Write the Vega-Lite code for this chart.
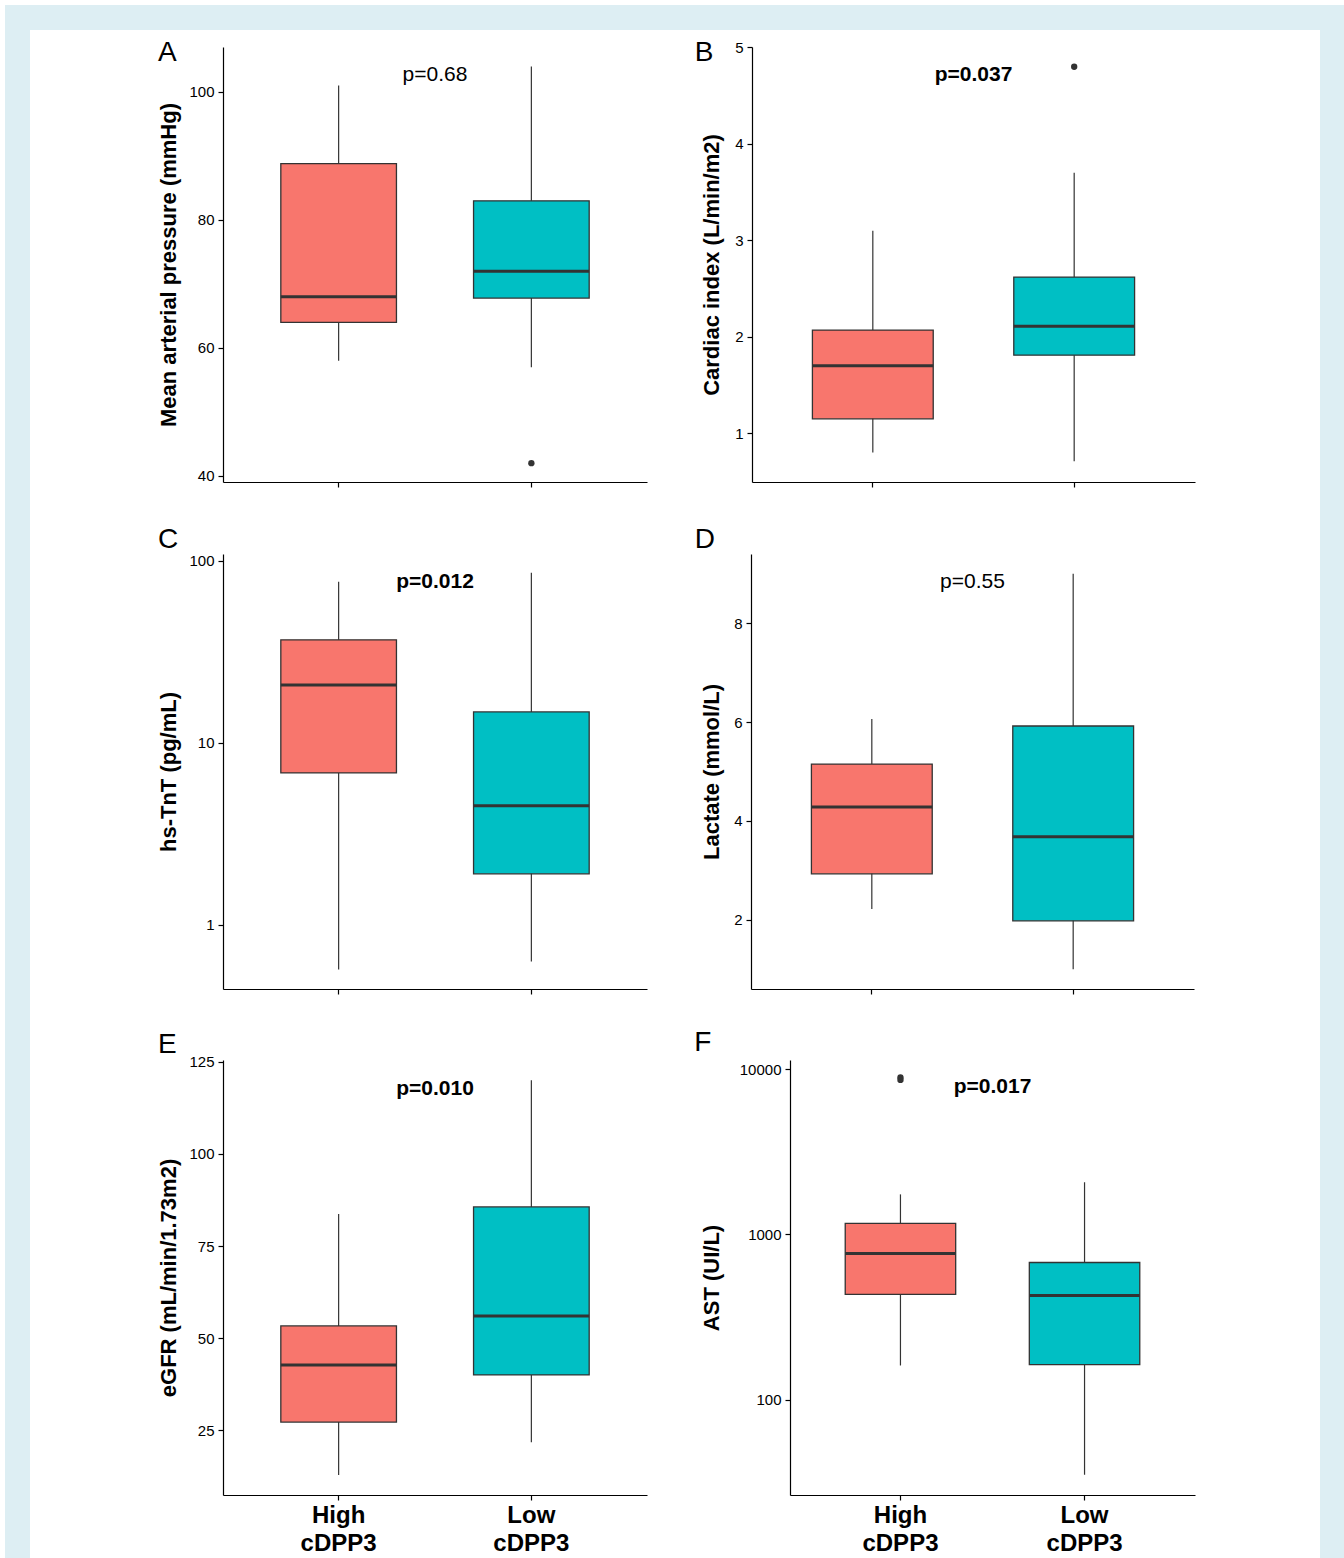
{
"$schema":"https://vega.github.io/schema/vega-lite/v6.json",
"padding":{"left":5,"top":5,"right":0,"bottom":0},
"background":"white",
"datasets":{
 "box":[
  {"panel":"A","group":"High","lo":58,"q1":64,"med":68,"q3":88.8,"hi":101},
  {"panel":"A","group":"Low","lo":57,"q1":67.8,"med":72,"q3":83,"hi":104},
  {"panel":"B","group":"High","lo":0.8,"q1":1.15,"med":1.7,"q3":2.07,"hi":3.1},
  {"panel":"B","group":"Low","lo":0.71,"q1":1.81,"med":2.11,"q3":2.62,"hi":3.7},
  {"panel":"C","group":"High","lo":0.57,"q1":6.84,"med":20.8,"q3":36.8,"hi":76.7},
  {"panel":"C","group":"Low","lo":0.63,"q1":1.91,"med":4.51,"q3":14.8,"hi":85.9},
  {"panel":"D","group":"High","lo":2.22,"q1":2.93,"med":4.28,"q3":5.15,"hi":6.06},
  {"panel":"D","group":"Low","lo":1.0,"q1":1.98,"med":3.68,"q3":5.92,"hi":9.0},
  {"panel":"E","group":"High","lo":12.8,"q1":27.2,"med":42.7,"q3":53.3,"hi":83.7},
  {"panel":"E","group":"Low","lo":21.7,"q1":40.0,"med":56.0,"q3":85.6,"hi":120},
  {"panel":"F","group":"High","lo":161,"q1":433,"med":767,"q3":1166,"hi":1746},
  {"panel":"F","group":"Low","lo":35.1,"q1":163,"med":427,"q3":676,"hi":2066}
 ],
 "out":[
  {"panel":"A","group":"Low","v":42},
  {"panel":"B","group":"Low","v":4.8},
  {"panel":"F","group":"High","v":8900},
  {"panel":"F","group":"High","v":8600}
 ],
 "pv":[
  {"panel":"A","label":"p=0.68","y":102.7},
  {"panel":"B","label":"p=0.037","y":4.71},
  {"panel":"C","label":"p=0.012","y":76.7},
  {"panel":"D","label":"p=0.55","y":8.83},
  {"panel":"E","label":"p=0.010","y":117.7},
  {"panel":"F","label":"p=0.017","y":7780}
 ]
},
"spacing":0,
"hconcat":[
 {"width":25,"height":1553,"data":{"values":[{"a":1}]},"mark":{"type":"point","opacity":0,"size":0,"strokeWidth":0},"view":{"fill":"#ddeef3","stroke":null}},
 {"spacing":9,"vconcat":[
  {"width":1290,"height":25,"data":{"values":[{"a":1}]},"mark":{"type":"point","opacity":0,"size":0,"strokeWidth":0},"view":{"fill":"#ddeef3","stroke":null}},
  {"spacing":126,"hconcat":[
   {"width":1,"height":1,"data":{"values":[{"a":1}]},"mark":{"type":"point","opacity":0,"size":0,"strokeWidth":0}},
   {"spacing":37,"vconcat":[
    {"spacing":47,"hconcat":[
     {"width":424,"height":435,
      "title":{"text":"A","anchor":"start","frame":"bounds","offset":-20,"dx":0},
      "layer":[
       {"data":{"name":"box"},"transform":[{"filter":"datum.panel=='A'"}],"mark":{"type":"rule","color":"#333333","strokeWidth":1.2},
        "encoding":{"x":{"field":"group","type":"nominal","title":null,"scale":{"domain":["High","Low"],"paddingInner":0.4,"paddingOuter":0.3},"axis":{"labels":false}},
         "y":{"field":"lo","type":"quantitative","title":"Mean arterial pressure (mmHg)","scale":{"domain":[39.06,107.03],"nice":false,"zero":false},"axis":{"values":[40,60,80,100],"titlePadding":8}},"y2":{"field":"hi"}}},
       {"data":{"name":"box"},"transform":[{"filter":"datum.panel=='A'"}],"mark":{"type":"bar","stroke":"#333333","strokeWidth":1.3},
        "encoding":{"x":{"field":"group","type":"nominal","title":null},
         "y":{"field":"q1","type":"quantitative","title":"Mean arterial pressure (mmHg)","scale":{"domain":[39.06,107.03],"nice":false,"zero":false}},"y2":{"field":"q3"},
         "color":{"field":"group","type":"nominal","scale":{"domain":["High","Low"],"range":["#F8766D","#00BFC4"]},"legend":null}}},
       {"data":{"name":"box"},"transform":[{"filter":"datum.panel=='A'"}],"mark":{"type":"bar","fillOpacity":0,"stroke":"#333333","strokeWidth":3},
        "encoding":{"x":{"field":"group","type":"nominal","title":null},
         "y":{"field":"med","type":"quantitative","title":"Mean arterial pressure (mmHg)","scale":{"domain":[39.06,107.03],"nice":false,"zero":false}},"y2":{"field":"med"}}},
       {"data":{"name":"out"},"transform":[{"filter":"datum.panel=='A'"}],"mark":{"type":"circle","color":"#333333","opacity":1,"size":40},
        "encoding":{"x":{"field":"group","type":"nominal","title":null},
         "y":{"field":"v","type":"quantitative","title":"Mean arterial pressure (mmHg)","scale":{"domain":[39.06,107.03],"nice":false,"zero":false}}}},
       {"data":{"name":"pv"},"transform":[{"filter":"datum.panel=='A'"}],"mark":{"type":"text","fontSize":21,"fontWeight":"normal","color":"black","baseline":"middle"},
        "encoding":{"y":{"field":"y","type":"quantitative","title":"Mean arterial pressure (mmHg)","scale":{"domain":[39.06,107.03],"nice":false,"zero":false}},"text":{"field":"label"}}}
      ]},
     {"width":443,"height":435,
      "title":{"text":"B","anchor":"start","frame":"bounds","offset":-27,"dx":-6},
      "layer":[
       {"data":{"name":"box"},"transform":[{"filter":"datum.panel=='B'"}],"mark":{"type":"rule","color":"#333333","strokeWidth":1.2},
        "encoding":{"x":{"field":"group","type":"nominal","title":null,"scale":{"domain":["High","Low"],"paddingInner":0.4,"paddingOuter":0.3},"axis":{"labels":false}},
         "y":{"field":"lo","type":"quantitative","title":"Cardiac index (L/min/m2)","scale":{"domain":[0.495,5.005],"nice":false,"zero":false},"axis":{"values":[1,2,3,4,5],"format":"d","titlePadding":11}},"y2":{"field":"hi"}}},
       {"data":{"name":"box"},"transform":[{"filter":"datum.panel=='B'"}],"mark":{"type":"bar","stroke":"#333333","strokeWidth":1.3},
        "encoding":{"x":{"field":"group","type":"nominal","title":null},
         "y":{"field":"q1","type":"quantitative","title":"Cardiac index (L/min/m2)","scale":{"domain":[0.495,5.005],"nice":false,"zero":false}},"y2":{"field":"q3"},
         "color":{"field":"group","type":"nominal","scale":{"domain":["High","Low"],"range":["#F8766D","#00BFC4"]},"legend":null}}},
       {"data":{"name":"box"},"transform":[{"filter":"datum.panel=='B'"}],"mark":{"type":"bar","fillOpacity":0,"stroke":"#333333","strokeWidth":3},
        "encoding":{"x":{"field":"group","type":"nominal","title":null},
         "y":{"field":"med","type":"quantitative","title":"Cardiac index (L/min/m2)","scale":{"domain":[0.495,5.005],"nice":false,"zero":false}},"y2":{"field":"med"}}},
       {"data":{"name":"out"},"transform":[{"filter":"datum.panel=='B'"}],"mark":{"type":"circle","color":"#333333","opacity":1,"size":40},
        "encoding":{"x":{"field":"group","type":"nominal","title":null},
         "y":{"field":"v","type":"quantitative","title":"Cardiac index (L/min/m2)","scale":{"domain":[0.495,5.005],"nice":false,"zero":false}}}},
       {"data":{"name":"pv"},"transform":[{"filter":"datum.panel=='B'"}],"mark":{"type":"text","fontSize":21,"fontWeight":"bold","color":"black","baseline":"middle"},
        "encoding":{"y":{"field":"y","type":"quantitative","title":"Cardiac index (L/min/m2)","scale":{"domain":[0.495,5.005],"nice":false,"zero":false}},"text":{"field":"label"}}}
      ]}
    ]},
    {"spacing":34,"vconcat":[
    {"spacing":47,"hconcat":[
     {"width":424,"height":435,
      "title":{"text":"C","anchor":"start","frame":"bounds","offset":0,"dx":0},
      "layer":[
       {"data":{"name":"box"},"transform":[{"filter":"datum.panel=='C'"}],"mark":{"type":"rule","color":"#333333","strokeWidth":1.2},
        "encoding":{"x":{"field":"group","type":"nominal","title":null,"scale":{"domain":["High","Low"],"paddingInner":0.4,"paddingOuter":0.3},"axis":{"labels":false}},
         "y":{"field":"lo","type":"quantitative","title":"hs-TnT (pg/mL)","scale":{"type":"log","domain":[0.445,109],"nice":false},"axis":{"values":[1,10,100],"format":"d","titlePadding":8}},"y2":{"field":"hi"}}},
       {"data":{"name":"box"},"transform":[{"filter":"datum.panel=='C'"}],"mark":{"type":"bar","stroke":"#333333","strokeWidth":1.3},
        "encoding":{"x":{"field":"group","type":"nominal","title":null},
         "y":{"field":"q1","type":"quantitative","title":"hs-TnT (pg/mL)","scale":{"type":"log","domain":[0.445,109],"nice":false}},"y2":{"field":"q3"},
         "color":{"field":"group","type":"nominal","scale":{"domain":["High","Low"],"range":["#F8766D","#00BFC4"]},"legend":null}}},
       {"data":{"name":"box"},"transform":[{"filter":"datum.panel=='C'"}],"mark":{"type":"bar","fillOpacity":0,"stroke":"#333333","strokeWidth":3},
        "encoding":{"x":{"field":"group","type":"nominal","title":null},
         "y":{"field":"med","type":"quantitative","title":"hs-TnT (pg/mL)","scale":{"type":"log","domain":[0.445,109],"nice":false}},"y2":{"field":"med"}}},
       {"data":{"name":"pv"},"transform":[{"filter":"datum.panel=='C'"}],"mark":{"type":"text","fontSize":21,"fontWeight":"bold","color":"black","baseline":"middle"},
        "encoding":{"y":{"field":"y","type":"quantitative","title":"hs-TnT (pg/mL)","scale":{"type":"log","domain":[0.445,109],"nice":false}},"text":{"field":"label"}}}
      ]},
     {"width":443,"height":435,
      "title":{"text":"D","anchor":"start","frame":"bounds","offset":0,"dx":-6},
      "layer":[
       {"data":{"name":"box"},"transform":[{"filter":"datum.panel=='D'"}],"mark":{"type":"rule","color":"#333333","strokeWidth":1.2},
        "encoding":{"x":{"field":"group","type":"nominal","title":null,"scale":{"domain":["High","Low"],"paddingInner":0.4,"paddingOuter":0.3},"axis":{"labels":false}},
         "y":{"field":"lo","type":"quantitative","title":"Lactate (mmol/L)","scale":{"domain":[0.6,9.4],"nice":false,"zero":false},"axis":{"values":[2,4,6,8],"titlePadding":10}},"y2":{"field":"hi"}}},
       {"data":{"name":"box"},"transform":[{"filter":"datum.panel=='D'"}],"mark":{"type":"bar","stroke":"#333333","strokeWidth":1.3},
        "encoding":{"x":{"field":"group","type":"nominal","title":null},
         "y":{"field":"q1","type":"quantitative","title":"Lactate (mmol/L)","scale":{"domain":[0.6,9.4],"nice":false,"zero":false}},"y2":{"field":"q3"},
         "color":{"field":"group","type":"nominal","scale":{"domain":["High","Low"],"range":["#F8766D","#00BFC4"]},"legend":null}}},
       {"data":{"name":"box"},"transform":[{"filter":"datum.panel=='D'"}],"mark":{"type":"bar","fillOpacity":0,"stroke":"#333333","strokeWidth":3},
        "encoding":{"x":{"field":"group","type":"nominal","title":null},
         "y":{"field":"med","type":"quantitative","title":"Lactate (mmol/L)","scale":{"domain":[0.6,9.4],"nice":false,"zero":false}},"y2":{"field":"med"}}},
       {"data":{"name":"pv"},"transform":[{"filter":"datum.panel=='D'"}],"mark":{"type":"text","fontSize":21,"fontWeight":"normal","color":"black","baseline":"middle"},
        "encoding":{"y":{"field":"y","type":"quantitative","title":"Lactate (mmol/L)","scale":{"domain":[0.6,9.4],"nice":false,"zero":false}},"text":{"field":"label"}}}
      ]}
    ]},
    {"spacing":47,"hconcat":[
     {"width":424,"height":435,
      "title":{"text":"E","anchor":"start","frame":"bounds","offset":-4,"dx":0},
      "layer":[
       {"data":{"name":"box"},"transform":[{"filter":"datum.panel=='E'"}],"mark":{"type":"rule","color":"#333333","strokeWidth":1.2},
        "encoding":{"x":{"field":"group","type":"nominal","title":null,"scale":{"domain":["High","Low"],"paddingInner":0.4,"paddingOuter":0.3},"axis":{"labelExpr":"datum.value == 'High' ? ['High','cDPP3'] : ['Low','cDPP3']"}},
         "y":{"field":"lo","type":"quantitative","title":"eGFR (mL/min/1.73m2)","scale":{"domain":[7.4,125.5],"nice":false,"zero":false},"axis":{"values":[25,50,75,100,125],"titlePadding":8}},"y2":{"field":"hi"}}},
       {"data":{"name":"box"},"transform":[{"filter":"datum.panel=='E'"}],"mark":{"type":"bar","stroke":"#333333","strokeWidth":1.3},
        "encoding":{"x":{"field":"group","type":"nominal","title":null},
         "y":{"field":"q1","type":"quantitative","title":"eGFR (mL/min/1.73m2)","scale":{"domain":[7.4,125.5],"nice":false,"zero":false}},"y2":{"field":"q3"},
         "color":{"field":"group","type":"nominal","scale":{"domain":["High","Low"],"range":["#F8766D","#00BFC4"]},"legend":null}}},
       {"data":{"name":"box"},"transform":[{"filter":"datum.panel=='E'"}],"mark":{"type":"bar","fillOpacity":0,"stroke":"#333333","strokeWidth":3},
        "encoding":{"x":{"field":"group","type":"nominal","title":null},
         "y":{"field":"med","type":"quantitative","title":"eGFR (mL/min/1.73m2)","scale":{"domain":[7.4,125.5],"nice":false,"zero":false}},"y2":{"field":"med"}}},
       {"data":{"name":"pv"},"transform":[{"filter":"datum.panel=='E'"}],"mark":{"type":"text","fontSize":21,"fontWeight":"bold","color":"black","baseline":"middle"},
        "encoding":{"y":{"field":"y","type":"quantitative","title":"eGFR (mL/min/1.73m2)","scale":{"domain":[7.4,125.5],"nice":false,"zero":false}},"text":{"field":"label"}}}
      ]},
     {"width":405,"height":435,
      "title":{"text":"F","anchor":"start","frame":"bounds","offset":3,"dx":-6},
      "layer":[
       {"data":{"name":"box"},"transform":[{"filter":"datum.panel=='F'"}],"mark":{"type":"rule","color":"#333333","strokeWidth":1.2},
        "encoding":{"x":{"field":"group","type":"nominal","title":null,"scale":{"domain":["High","Low"],"paddingInner":0.4,"paddingOuter":0.3},"axis":{"labelExpr":"datum.value == 'High' ? ['High','cDPP3'] : ['Low','cDPP3']"}},
         "y":{"field":"lo","type":"quantitative","title":"AST (UI/L)","scale":{"type":"log","domain":[26.5,11350],"nice":false},"axis":{"values":[100,1000,10000],"format":"d","titlePadding":16}},"y2":{"field":"hi"}}},
       {"data":{"name":"box"},"transform":[{"filter":"datum.panel=='F'"}],"mark":{"type":"bar","stroke":"#333333","strokeWidth":1.3},
        "encoding":{"x":{"field":"group","type":"nominal","title":null},
         "y":{"field":"q1","type":"quantitative","title":"AST (UI/L)","scale":{"type":"log","domain":[26.5,11350],"nice":false}},"y2":{"field":"q3"},
         "color":{"field":"group","type":"nominal","scale":{"domain":["High","Low"],"range":["#F8766D","#00BFC4"]},"legend":null}}},
       {"data":{"name":"box"},"transform":[{"filter":"datum.panel=='F'"}],"mark":{"type":"bar","fillOpacity":0,"stroke":"#333333","strokeWidth":3},
        "encoding":{"x":{"field":"group","type":"nominal","title":null},
         "y":{"field":"med","type":"quantitative","title":"AST (UI/L)","scale":{"type":"log","domain":[26.5,11350],"nice":false}},"y2":{"field":"med"}}},
       {"data":{"name":"out"},"transform":[{"filter":"datum.panel=='F'"}],"mark":{"type":"circle","color":"#333333","opacity":1,"size":40},
        "encoding":{"x":{"field":"group","type":"nominal","title":null},
         "y":{"field":"v","type":"quantitative","title":"AST (UI/L)","scale":{"type":"log","domain":[26.5,11350],"nice":false}}}},
       {"data":{"name":"pv"},"transform":[{"filter":"datum.panel=='F'"}],"mark":{"type":"text","fontSize":21,"fontWeight":"bold","color":"black","baseline":"middle"},
        "encoding":{"y":{"field":"y","type":"quantitative","title":"AST (UI/L)","scale":{"type":"log","domain":[26.5,11350],"nice":false}},"text":{"field":"label"}}}
      ]}
    ]}
    ]}
   ]}
  ]}
 ]},
 {"width":24,"height":1553,"data":{"values":[{"a":1}]},"mark":{"type":"point","opacity":0,"size":0,"strokeWidth":0},"view":{"fill":"#ddeef3","stroke":null}}
],
"config":{
 "view":{"stroke":null},
 "font":"Liberation Sans",
 "title":{"font":"Liberation Sans","fontSize":28,"fontWeight":"normal","color":"black"},
 "text":{"font":"Liberation Sans"},
 "axis":{"grid":false,"domainColor":"black","domainWidth":1.2,"tickColor":"black","tickWidth":1.2,"tickSize":5,"labelColor":"black","labelFontSize":15,"labelFont":"Liberation Sans","labelPadding":4,"labelFlush":false,"labelOverlap":false,"titleFont":"Liberation Sans","titleFontSize":22,"titleFontWeight":"bold","titleColor":"black"},
 "axisX":{"labelFontSize":24,"labelFontWeight":"bold","labelLineHeight":28,"labelPadding":3,"labelAngle":0}
}
}
